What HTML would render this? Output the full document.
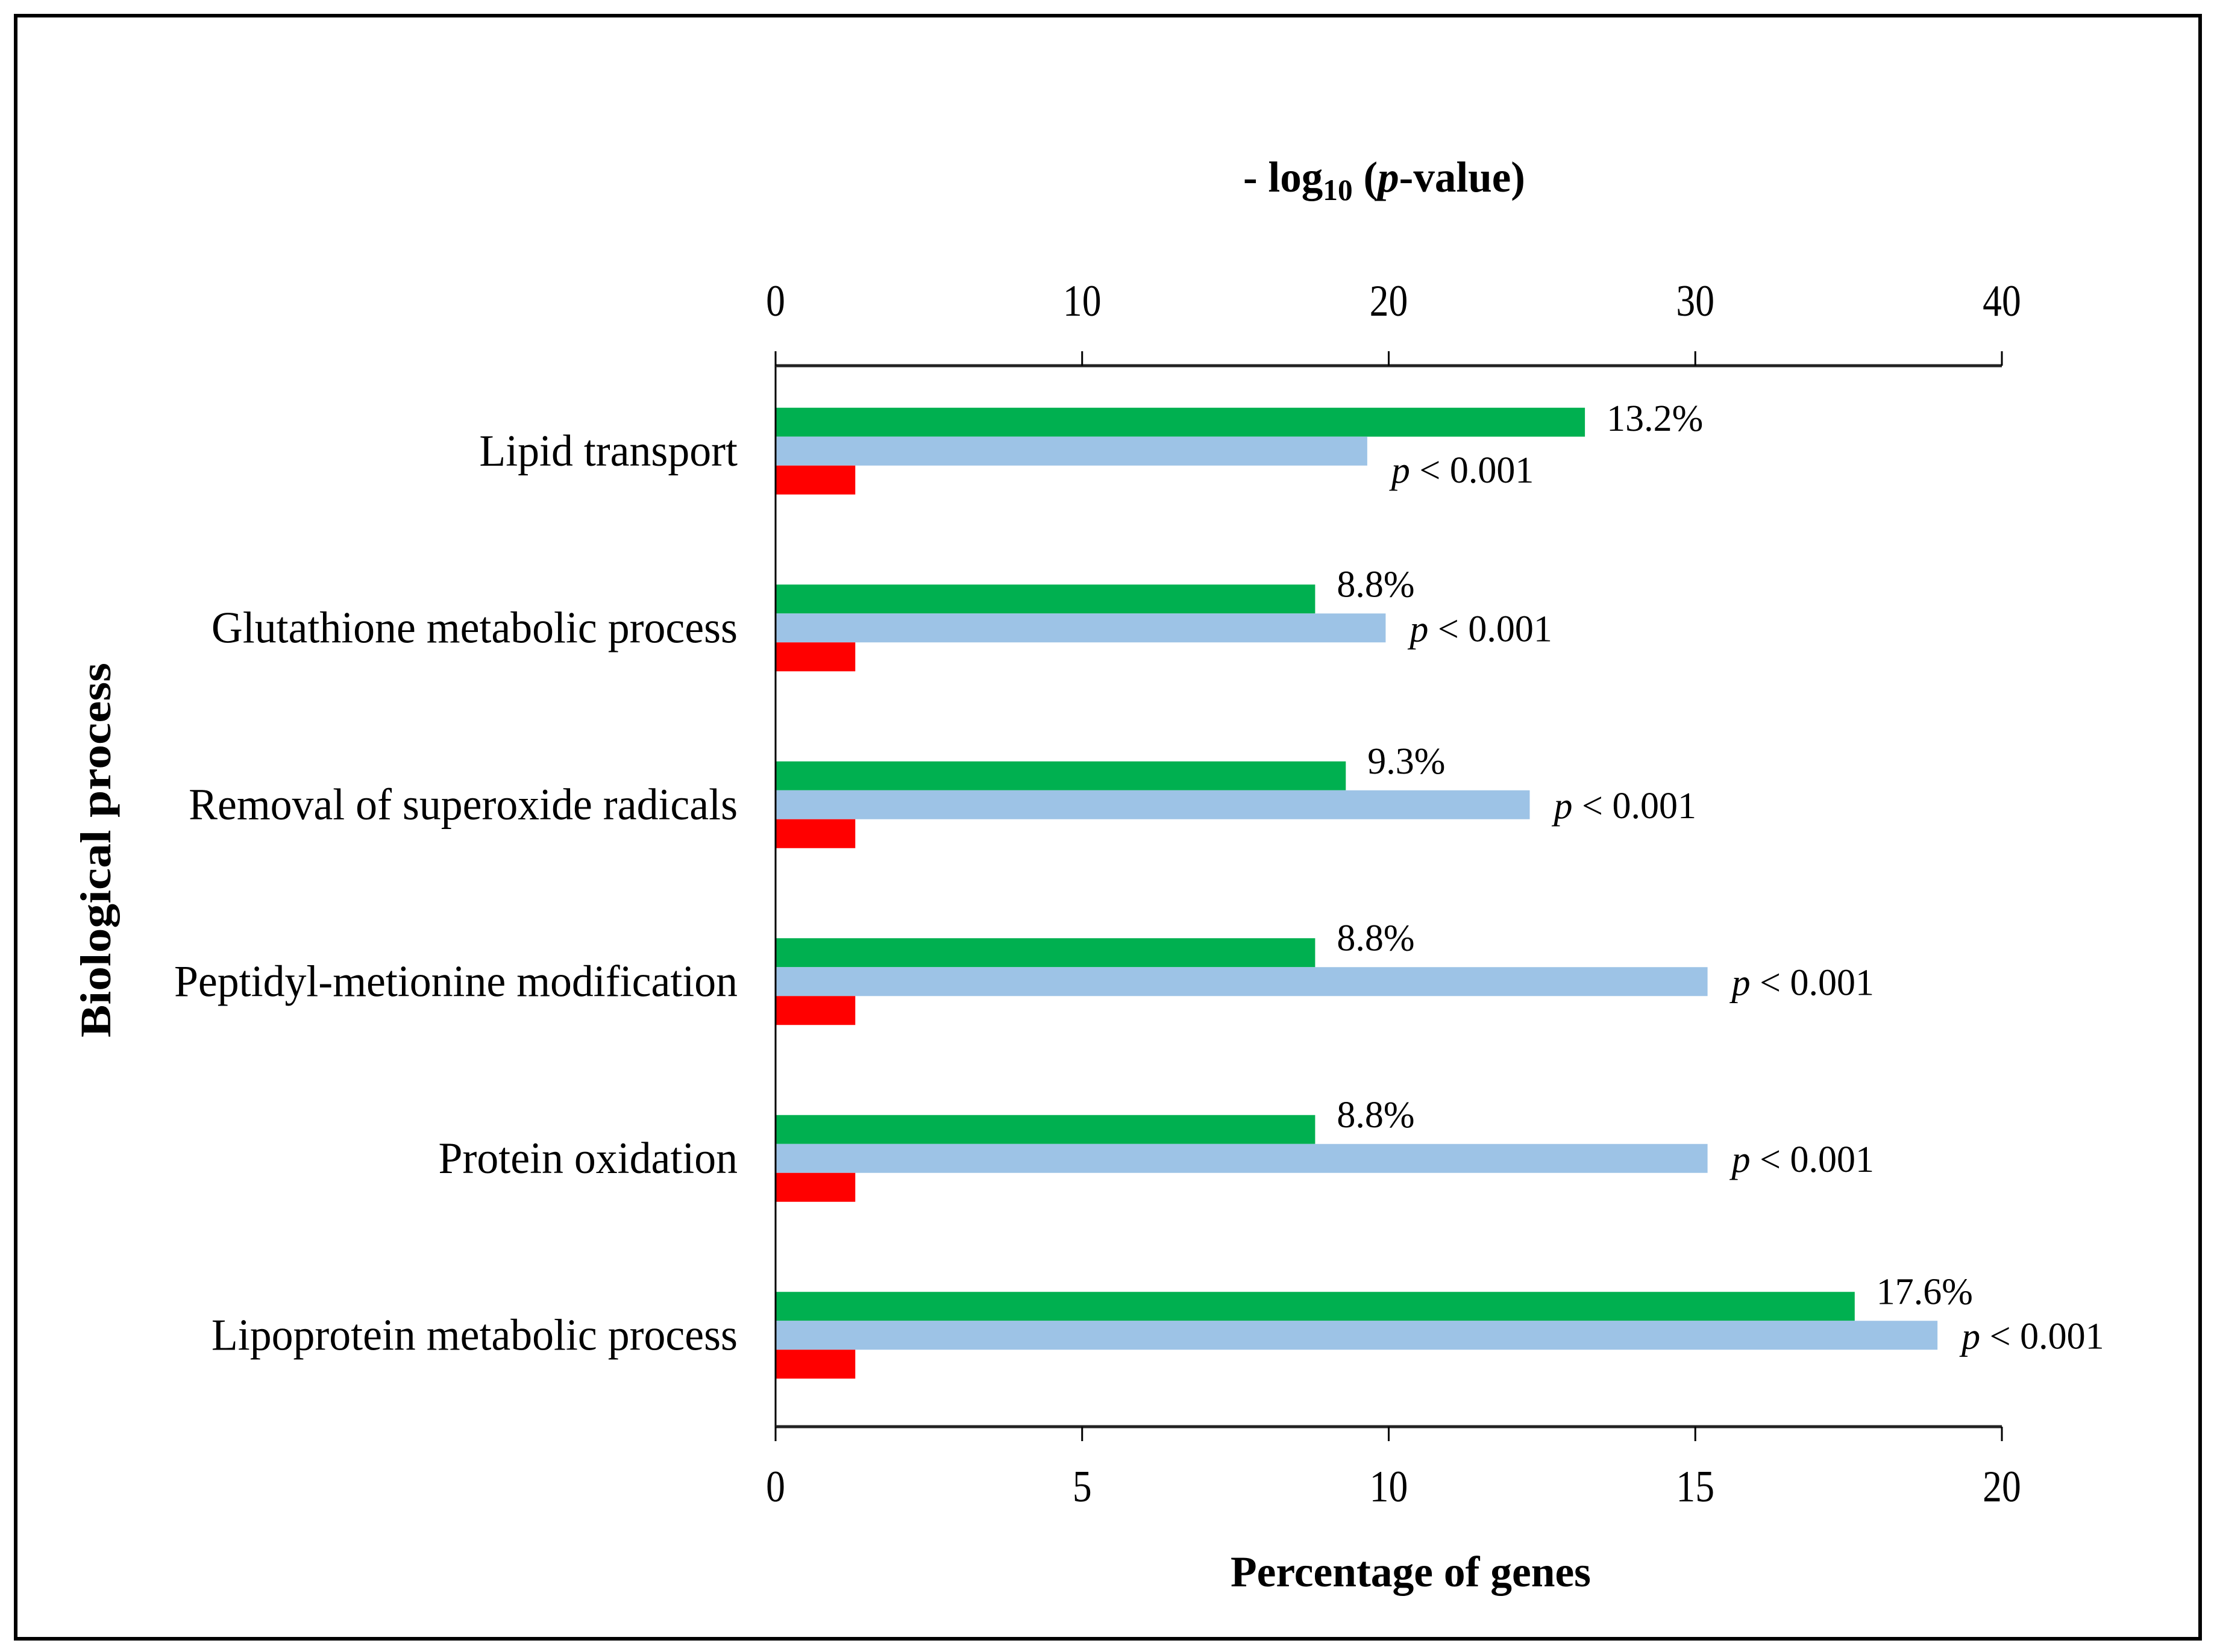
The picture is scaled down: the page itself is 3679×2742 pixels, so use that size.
<!DOCTYPE html>
<html><head><meta charset="utf-8"><style>
html,body{margin:0;padding:0;background:#fff;}
svg{display:block;}
text{font-family:"Liberation Serif",serif;fill:#000;}
</style></head><body>
<svg id="chart" width="3679" height="2742" viewBox="0 0 3679 2742" xmlns="http://www.w3.org/2000/svg">
<rect x="26" y="26" width="3625" height="2694" fill="#fff" stroke="#000" stroke-width="6"/>
<text x="2297" y="318" text-anchor="middle" font-size="72" font-weight="bold" textLength="468" lengthAdjust="spacingAndGlyphs">- log<tspan font-size="50" dy="14">10</tspan><tspan dy="-14"> (</tspan><tspan font-style="italic">p</tspan>-value)</text>
<text x="2341" y="2633" text-anchor="middle" font-size="72" font-weight="bold" textLength="598" lengthAdjust="spacingAndGlyphs">Percentage of genes</text>
<text transform="translate(183,1411) rotate(-90)" text-anchor="middle" font-size="72" font-weight="bold" textLength="622" lengthAdjust="spacingAndGlyphs">Biological process</text>
<g id="plot"></g>
</svg>
<script>
const categories = ["Lipid transport","Glutathione metabolic process","Removal of superoxide radicals","Peptidyl-metionine modification","Protein oxidation","Lipoprotein metabolic process"];
const percentGenes = [13.2, 8.8, 9.3, 8.8, 8.8, 17.6];
const negLogP = [19.3, 19.9, 24.6, 30.4, 30.4, 37.9];
const threshold = [1.3, 1.3, 1.3, 1.3, 1.3, 1.3];
const percentLabels = ["13.2%","8.8%","9.3%","8.8%","8.8%","17.6%"];
const pLabels = [" < 0.001"," < 0.001"," < 0.001"," < 0.001"," < 0.001"," < 0.001"];
const bottomTicks = [0,5,10,15,20];
const topTicks = [0,10,20,30,40];

const NS="http://www.w3.org/2000/svg";
const X0=1287, X1=3322, YT=607, YB=2368;
const xBottom = v => X0 + (v/20)*(X1-X0);
const xTop = v => X0 + (v/40)*(X1-X0);
const band = (YB-YT)/categories.length;
const yCenter = i => YT + band*(i+0.5) - 5;
const BH = 48;
const g = document.getElementById('plot');
function mk(tag, attrs){const e=document.createElementNS(NS,tag);for(const k in attrs)e.setAttribute(k,attrs[k]);g.appendChild(e);return e;}
function condense(t,f){const w=t.getComputedTextLength();t.setAttribute('textLength',w*f);t.setAttribute('lengthAdjust','spacingAndGlyphs');}

categories.forEach((c,i)=>{
  const yc=yCenter(i);
  const gb=mk('rect',{x:X0,y:yc-BH*1.5,width:xBottom(percentGenes[i])-X0,height:BH,fill:'#00b050'});
  
  
  const bb=mk('rect',{x:X0,y:yc-BH*0.5,width:xTop(negLogP[i])-X0,height:BH,fill:'#9dc3e6'});
  
  
  const rb=mk('rect',{x:X0,y:yc+BH*0.5,width:xBottom(threshold[i])-X0,height:BH,fill:'#ff0000'});
  
  
  const t=mk('text',{x:1224,y:yc+24,'text-anchor':'end','font-size':74});
  t.textContent=c;
  
  
  condense(t,0.97);
  const pl=mk('text',{x:xBottom(percentGenes[i])+36,y:yc-BH+(i===0?14:-4),'font-size':62});
  pl.textContent=percentLabels[i];
  
  
  const pv=mk('text',{x:xTop(negLogP[i])+40,y:yc+(i===0?52:22),'font-size':62});
  const ps=document.createElementNS(NS,'tspan');ps.setAttribute('font-style','italic');ps.textContent='p';pv.appendChild(ps);
  pv.appendChild(document.createTextNode(pLabels[i]));
  
  
});

const la=mk('line',{x1:X0,y1:YT,x2:X0,y2:YB,stroke:'#000','stroke-width':3});


const ta=mk('line',{x1:X0,y1:YT,x2:X1,y2:YT,stroke:'#222','stroke-width':5});


const ba=mk('line',{x1:X0,y1:YB,x2:X1,y2:YB,stroke:'#222','stroke-width':5});


topTicks.forEach((v,i)=>{
  const x=xTop(v);
  const tk=mk('line',{x1:x,y1:YT-24,x2:x,y2:YT,stroke:'#000','stroke-width':3});
  
  
  const tl=mk('text',{x:x,y:524,'text-anchor':'middle','font-size':74});
  tl.textContent=v;
  
  
  condense(tl,0.86);
});
bottomTicks.forEach((v,i)=>{
  const x=xBottom(v);
  const tk=mk('line',{x1:x,y1:YB,x2:x,y2:YB+24,stroke:'#000','stroke-width':3});
  
  
  const tl=mk('text',{x:x,y:2492,'text-anchor':'middle','font-size':74});
  tl.textContent=v;
  
  
  condense(tl,0.86);
});
</script>
</body></html>
